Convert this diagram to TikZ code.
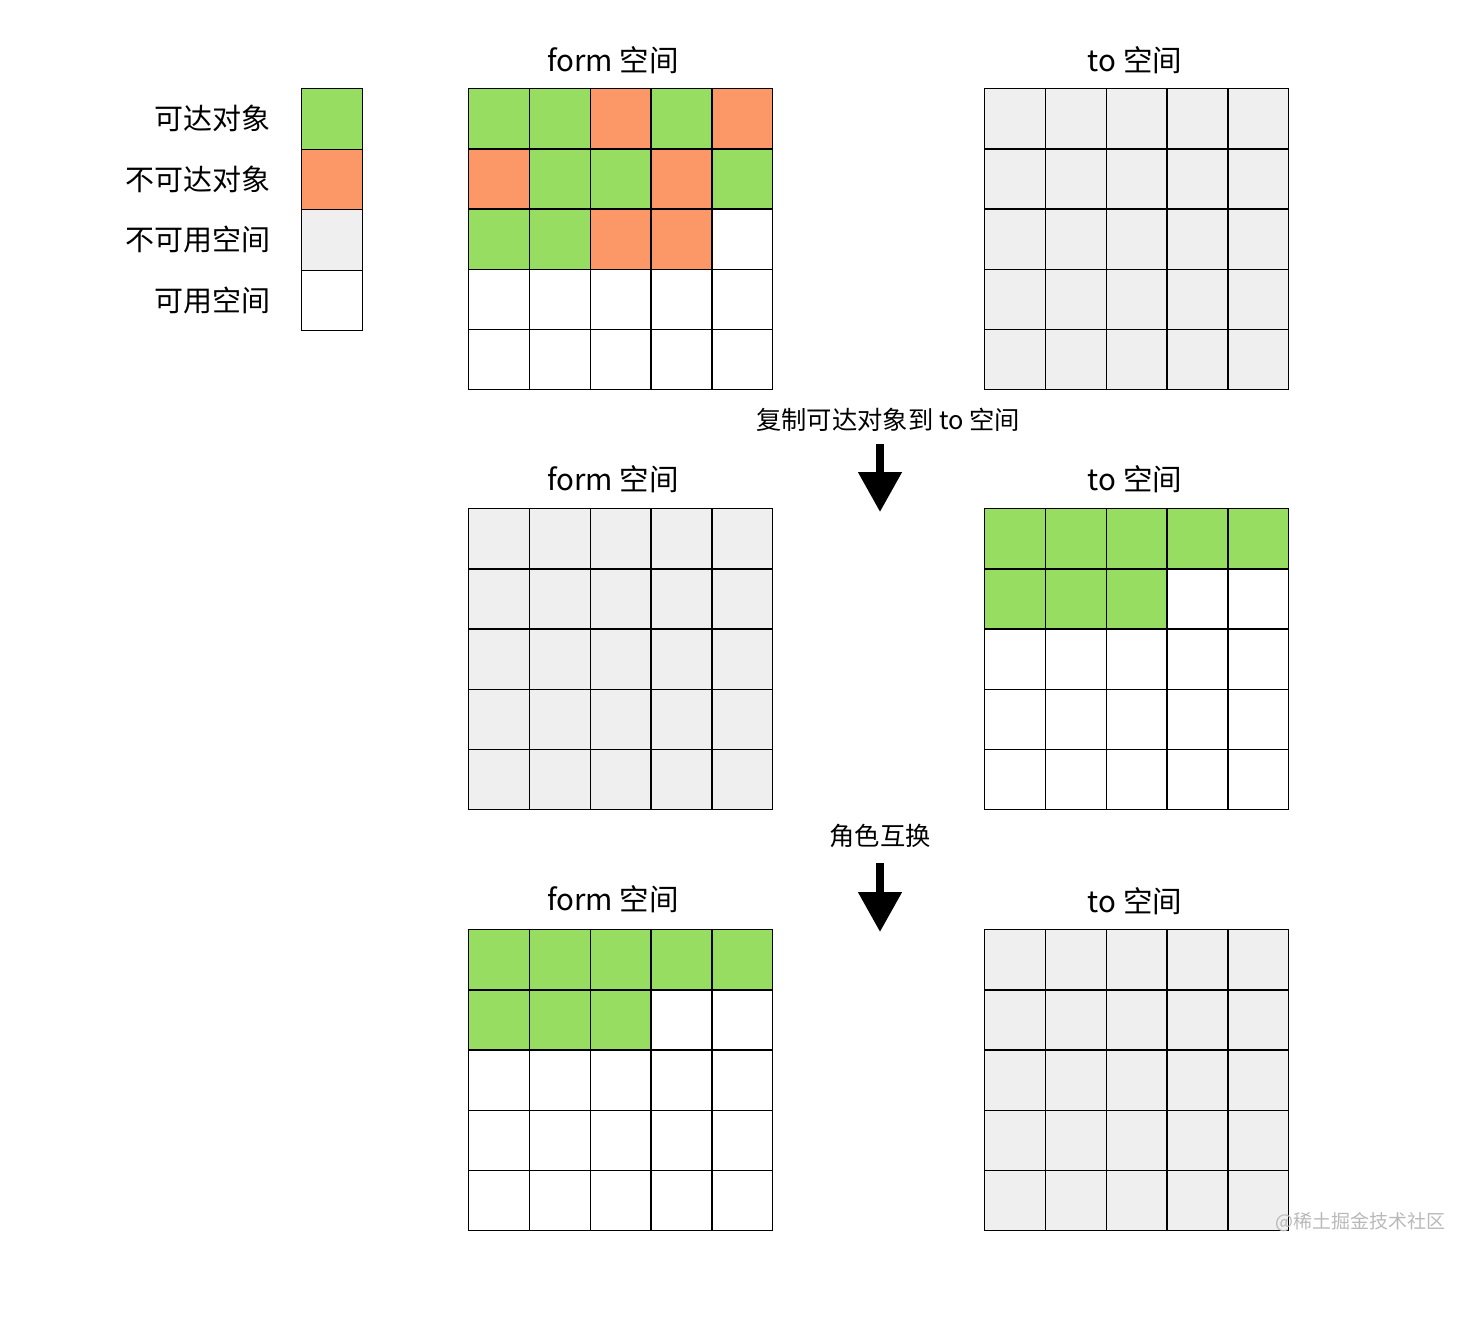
\documentclass[tikz,border=0pt]{standalone}
\usepackage{fontspec}
\setmainfont{Noto Sans CJK SC}
\usepackage{tikz}
\usetikzlibrary{arrows.meta}
\usetikzlibrary{positioning}
\definecolor{reach}{RGB}{150,221,98}
\definecolor{unreach}{RGB}{252,152,104}
\definecolor{used}{RGB}{239,239,239}
\definecolor{mark}{RGB}{185,185,185}
\tikzset{
    cell/.style={draw=black, line width=1.3pt, anchor=north west, inner sep=0pt,
        minimum width=60.8pt, minimum height=60.2pt},
    legcell/.style={draw=black, line width=1.3pt, anchor=north west, inner sep=0pt,
        minimum width=61pt, minimum height=60.5pt},
    title/.style={inner sep=0pt, font=\fontsize{29.5}{32}\selectfont},
    legtext/.style={inner sep=0pt, font=\fontsize{29}{32}\selectfont},
    steptext/.style={inner sep=0pt, font=\fontsize{25.3}{28}\selectfont},
    bigarrow/.style={line width=8pt, -{Triangle[length=40pt,width=42pt]}},
}
% grid of 5x5 cells: name, left x, top y, rows of colours
\newcommand{\spacegrid}[4]{
    \foreach \row [count=\j from 0] in {#4} {
        \foreach \c [count=\i from 0] in \row {
            \node[cell, fill=\c] (#1-\i-\j) at ({#2+\i*60.8},{#3+\j*60.2}) {};
        }
    }
}
\begin{document}
\begin{tikzpicture}[x=1pt, y=-1pt]
    \useasboundingbox (0,0) rectangle (1480,1318);
    % legend
    \foreach \c/\t [count=\k from 0] in {reach/可达对象, unreach/不可达对象, used/不可用空间, white/可用空间} {
        \node[legcell, fill=\c] (leg-\k) at (301,{88+\k*60.5}) {};
        \node[legtext, anchor=east, left=30pt of leg-\k.west] (legtext-\k) {\t};
    }
    % before copying
    \spacegrid{fromA}{468}{88}{{reach,reach,unreach,reach,unreach},
        {unreach,reach,reach,unreach,reach},
        {reach,reach,unreach,unreach,white},
        {white,white,white,white,white},
        {white,white,white,white,white}}
    \spacegrid{toA}{984}{88}{{used,used,used,used,used},
        {used,used,used,used,used},
        {used,used,used,used,used},
        {used,used,used,used,used},
        {used,used,used,used,used}}
    \node[title] (fromA-title) at (613,60) {form 空间};
    \node[title] (toA-title) at (1135,60) {to 空间};
    % after copying
    \spacegrid{fromB}{468}{508}{{used,used,used,used,used},
        {used,used,used,used,used},
        {used,used,used,used,used},
        {used,used,used,used,used},
        {used,used,used,used,used}}
    \spacegrid{toB}{984}{508}{{reach,reach,reach,reach,reach},
        {reach,reach,reach,white,white},
        {white,white,white,white,white},
        {white,white,white,white,white},
        {white,white,white,white,white}}
    \node[title] (fromB-title) at (613,479) {form 空间};
    \node[title] (toB-title) at (1135,479) {to 空间};
    % after swapping
    \spacegrid{fromC}{468}{929}{{reach,reach,reach,reach,reach},
        {reach,reach,reach,white,white},
        {white,white,white,white,white},
        {white,white,white,white,white},
        {white,white,white,white,white}}
    \spacegrid{toC}{984}{929}{{used,used,used,used,used},
        {used,used,used,used,used},
        {used,used,used,used,used},
        {used,used,used,used,used},
        {used,used,used,used,used}}
    \node[title] (fromC-title) at (613,899) {form 空间};
    \node[title] (toC-title) at (1135,901) {to 空间};
    % steps
    \node[steptext] (copy) at (888,420) {复制可达对象到 to 空间};
    \coordinate (copy-start) at (880,444);
    \coordinate (copy-end) at (880,512);
    \draw[bigarrow] (copy-start) -- (copy-end);
    \node[steptext] (swap) at (880,836) {角色互换};
    \coordinate (swap-start) at (880,863);
    \coordinate (swap-end) at (880,932);
    \draw[bigarrow] (swap-start) -- (swap-end);
    \node[inner sep=0pt, anchor=west, text=mark, font=\fontsize{19}{21}\selectfont] (watermark) at (1275,1222) {@稀土掘金技术社区};
\end{tikzpicture}
\end{document}
